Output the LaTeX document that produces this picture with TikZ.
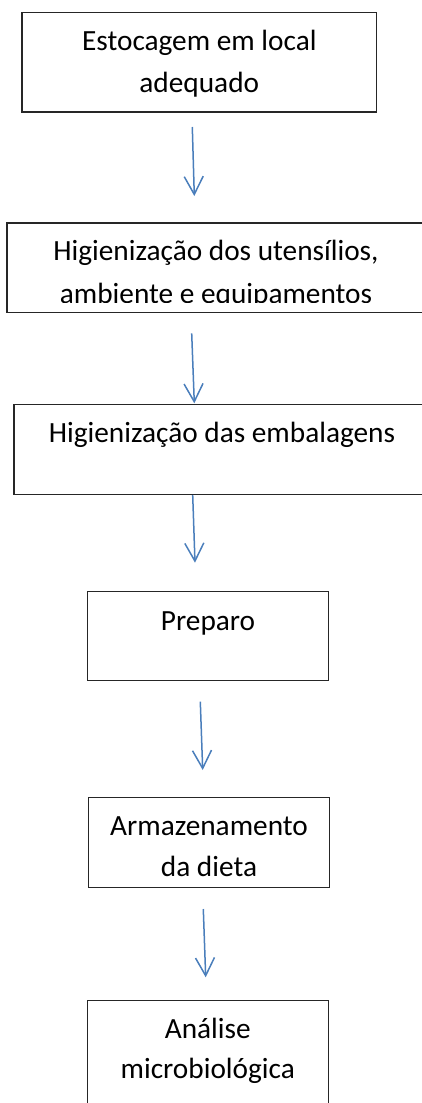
\documentclass[tikz,border=0pt]{standalone}
\usepackage{fontspec}
\setmainfont{Carlito}
\usetikzlibrary{arrows.meta}
\begin{document}
\begin{tikzpicture}[x=1pt,y=-1pt,
  stepbox/.style={draw=black!85,line width=1.4pt,inner sep=0pt},
  txt/.style={anchor=base,inner sep=0pt,font=\fontsize{29.3}{42}\selectfont},
  flow/.style={draw={rgb,255:red,74;green,126;blue,187},line width=1.5pt,
    -{Straight Barb[length=18pt,width=19pt,line width=1.5pt]}}]
\useasboundingbox (0,0) rectangle (422,1103);
\clip (0,0) rectangle (422,1103);
% boxes
\node [stepbox,minimum width=354.7pt,minimum height=99.7pt] (estoc) at (199.3,62.2) {};
\node [stepbox,minimum width=418pt,minimum height=89.7pt] (hutens) at (216,267.9) {};
\node [stepbox,minimum width=416pt,minimum height=90pt] (hembal) at (222,449.3) {};
\node [stepbox,minimum width=241pt,minimum height=89pt] (prep) at (207.8,636.2) {};
\node [stepbox,minimum width=240.6pt,minimum height=89.6pt] (armaz) at (209,842.5) {};
\node [stepbox,minimum width=241pt,minimum height=110pt] (anal) at (207.8,1055.7) {};
% texts
\node [txt] (estoc1) at (199.3,50) {Estocagem em local};
\node [txt] (estoc2) at (199.3,92) {adequado};
\node [txt] (hutens1) at (216,260) {Higienização dos utensílios,};
\begin{scope}
\clip (0,0) rectangle (422,302.5);
\node [txt] (hutens2) at (216,303.5) {ambiente e equipamentos};
\end{scope}
\node [txt] (hembal1) at (222,442) {Higienização das embalagens};
\node [txt] (prep1) at (208,630) {Preparo};
\node [txt] (armaz1) at (209,835) {Armazenamento};
\node [txt] (armaz2) at (209,876.7) {da dieta};
\node [txt] (anal1) at (207.8,1038) {Análise};
\node [txt] (anal2) at (207.8,1078) {microbiológica};
% arrows
\coordinate (a1s) at (192.3,127);
\coordinate (a1e) at (194.3,196);
\coordinate (a2s) at (191.7,333.3);
\coordinate (a2e) at (194.3,403.3);
\coordinate (a3s) at (192.7,495);
\coordinate (a3e) at (195,562.7);
\coordinate (a4s) at (200.3,701.7);
\coordinate (a4e) at (202.7,770);
\coordinate (a5s) at (203.3,909);
\coordinate (a5e) at (205.7,977.3);
\foreach \i in {1,...,5}
  \draw [flow] (a\i s) -- (a\i e);
\end{tikzpicture}
\end{document}
